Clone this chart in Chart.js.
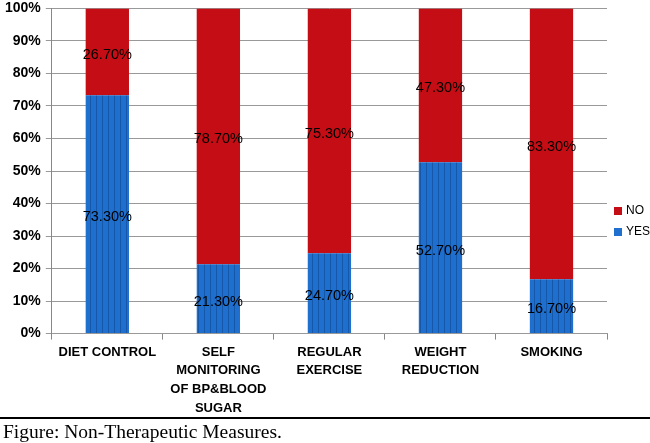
<!DOCTYPE html>
<html lang="en">
<head>
    <meta charset="UTF-8">
    <title>Non-Therapeutic Measures</title>
    <script src="https://cdn.jsdelivr.net/npm/chart.js"></script>
    <style>
        body {
            margin: 0;
            background: #fff;
            width: 650px;
            height: 443px;
            overflow: hidden;
            position: relative;
        }
        .wrap {
            position: absolute;
            left: 0;
            top: -5px;
            width: 650px;
            height: 426px;
        }
        .rule {
            position: absolute;
            left: 0;
            top: 417px;
            border-top: 2px solid #000;
            width: 650px;
        }
        .caption {
            position: absolute;
            left: 3px;
            top: 421px;
            font-family: "Liberation Serif", "DejaVu Serif", serif;
            font-size: 19.5px;
            line-height: 22px;
        }
    </style>
</head>
<body>
    <div class="wrap"><canvas id="chart"></canvas></div>
    <div class="rule"></div>
    <div class="caption">Figure: Non-Therapeutic Measures.</div>

    <script>
        // data
        const categories = [
            ['DIET CONTROL'],
            ['SELF', 'MONITORING', 'OF BP&BLOOD', 'SUGAR'],
            ['REGULAR', 'EXERCISE'],
            ['WEIGHT', 'REDUCTION'],
            ['SMOKING']
        ];
        const yesValues = [73.3, 21.3, 24.7, 52.7, 16.7];
        const noValues = [26.7, 78.7, 75.3, 47.3, 83.3];
        const yTicks = [0, 10, 20, 30, 40, 50, 60, 70, 80, 90, 100];

        const font = '"Liberation Sans", Arial, sans-serif';

        // striped blue fill like the original
        function stripes() {
            let c = document.createElement('canvas');
            c.width = 6; c.height = 4;
            let g = c.getContext('2d');
            g.fillStyle = '#1f6fcf';
            g.fillRect(0, 0, 6, 4);
            g.fillStyle = '#1557a8';
            g.fillRect(0, 0, 1, 4);
            return g.createPattern(c, 'repeat');
        }

        // percentage labels inside each segment
        const segLabels = {
            id: 'segLabels',
            afterDatasetsDraw(chart) {
                let ctx = chart.ctx;
                ctx.save();
                ctx.font = '14.5px ' + font;
                ctx.fillStyle = '#000';
                ctx.textAlign = 'center';
                ctx.textBaseline = 'middle';
                chart.data.datasets.forEach((ds, i) => {
                    chart.getDatasetMeta(i).data.forEach((bar, j) => {
                        let mid = (bar.y + bar.base) / 2;
                        ctx.fillText(ds.data[j].toFixed(2) + '%', bar.x, mid + 3);
                    });
                });
                ctx.restore();
            }
        };

        // small legend on the right, NO above YES
        const sideLegend = {
            id: 'sideLegend',
            afterDraw(chart) {
                let ctx = chart.ctx;
                ctx.save();
                ctx.font = '12px ' + font;
                ctx.textBaseline = 'middle';
                let x = chart.chartArea.right + 7;
                let items = chart.data.datasets.slice().reverse();
                items.forEach((ds, k) => {
                    let y = 216 + k * 21;
                    ctx.fillStyle = ds.label === 'YES' ? '#1f6fcf' : '#c40d14';
                    ctx.fillRect(x, y - 4, 8, 8);
                    ctx.fillStyle = '#000';
                    ctx.fillText(ds.label, x + 12, y);
                });
                ctx.restore();
            }
        };

        new Chart(document.getElementById('chart'), {
            type: 'bar',
            data: {
                labels: categories,
                datasets: [
                    { label: 'YES', data: yesValues, backgroundColor: stripes(), categoryPercentage: 1, barPercentage: 0.39 },
                    { label: 'NO', data: noValues, backgroundColor: '#c40d14', categoryPercentage: 1, barPercentage: 0.39 }
                ]
            },
            options: {
                responsive: true,
                maintainAspectRatio: false,
                animation: false,
                layout: { padding: { top: 1, right: 43, left: 0, bottom: 0 } },
                plugins: {
                    tooltip: { enabled: false },
                    legend: { display: false }
                },
                scales: {
                    x: {
                        stacked: true,
                        grid: { drawOnChartArea: false, tickLength: 6, color: '#888' },
                        border: { color: '#999' },
                        ticks: {
                            color: '#000',
                            maxRotation: 0,
                            font: { family: font, size: 13, weight: 'bold', lineHeight: 1.45 }
                        }
                    },
                    y: {
                        stacked: true,
                        min: 0,
                        max: 100,
                        afterBuildTicks: axis => { axis.ticks = yTicks.map(v => ({ value: v })); },
                        grid: { color: '#999', tickLength: 6 },
                        border: { color: '#888' },
                        ticks: {
                            color: '#000',
                            padding: 5,
                            callback: v => v + '%',
                            font: { family: font, size: 14, weight: 'bold' }
                        }
                    }
                }
            },
            plugins: [segLabels, sideLegend]
        });
    </script>
</body>
</html>
